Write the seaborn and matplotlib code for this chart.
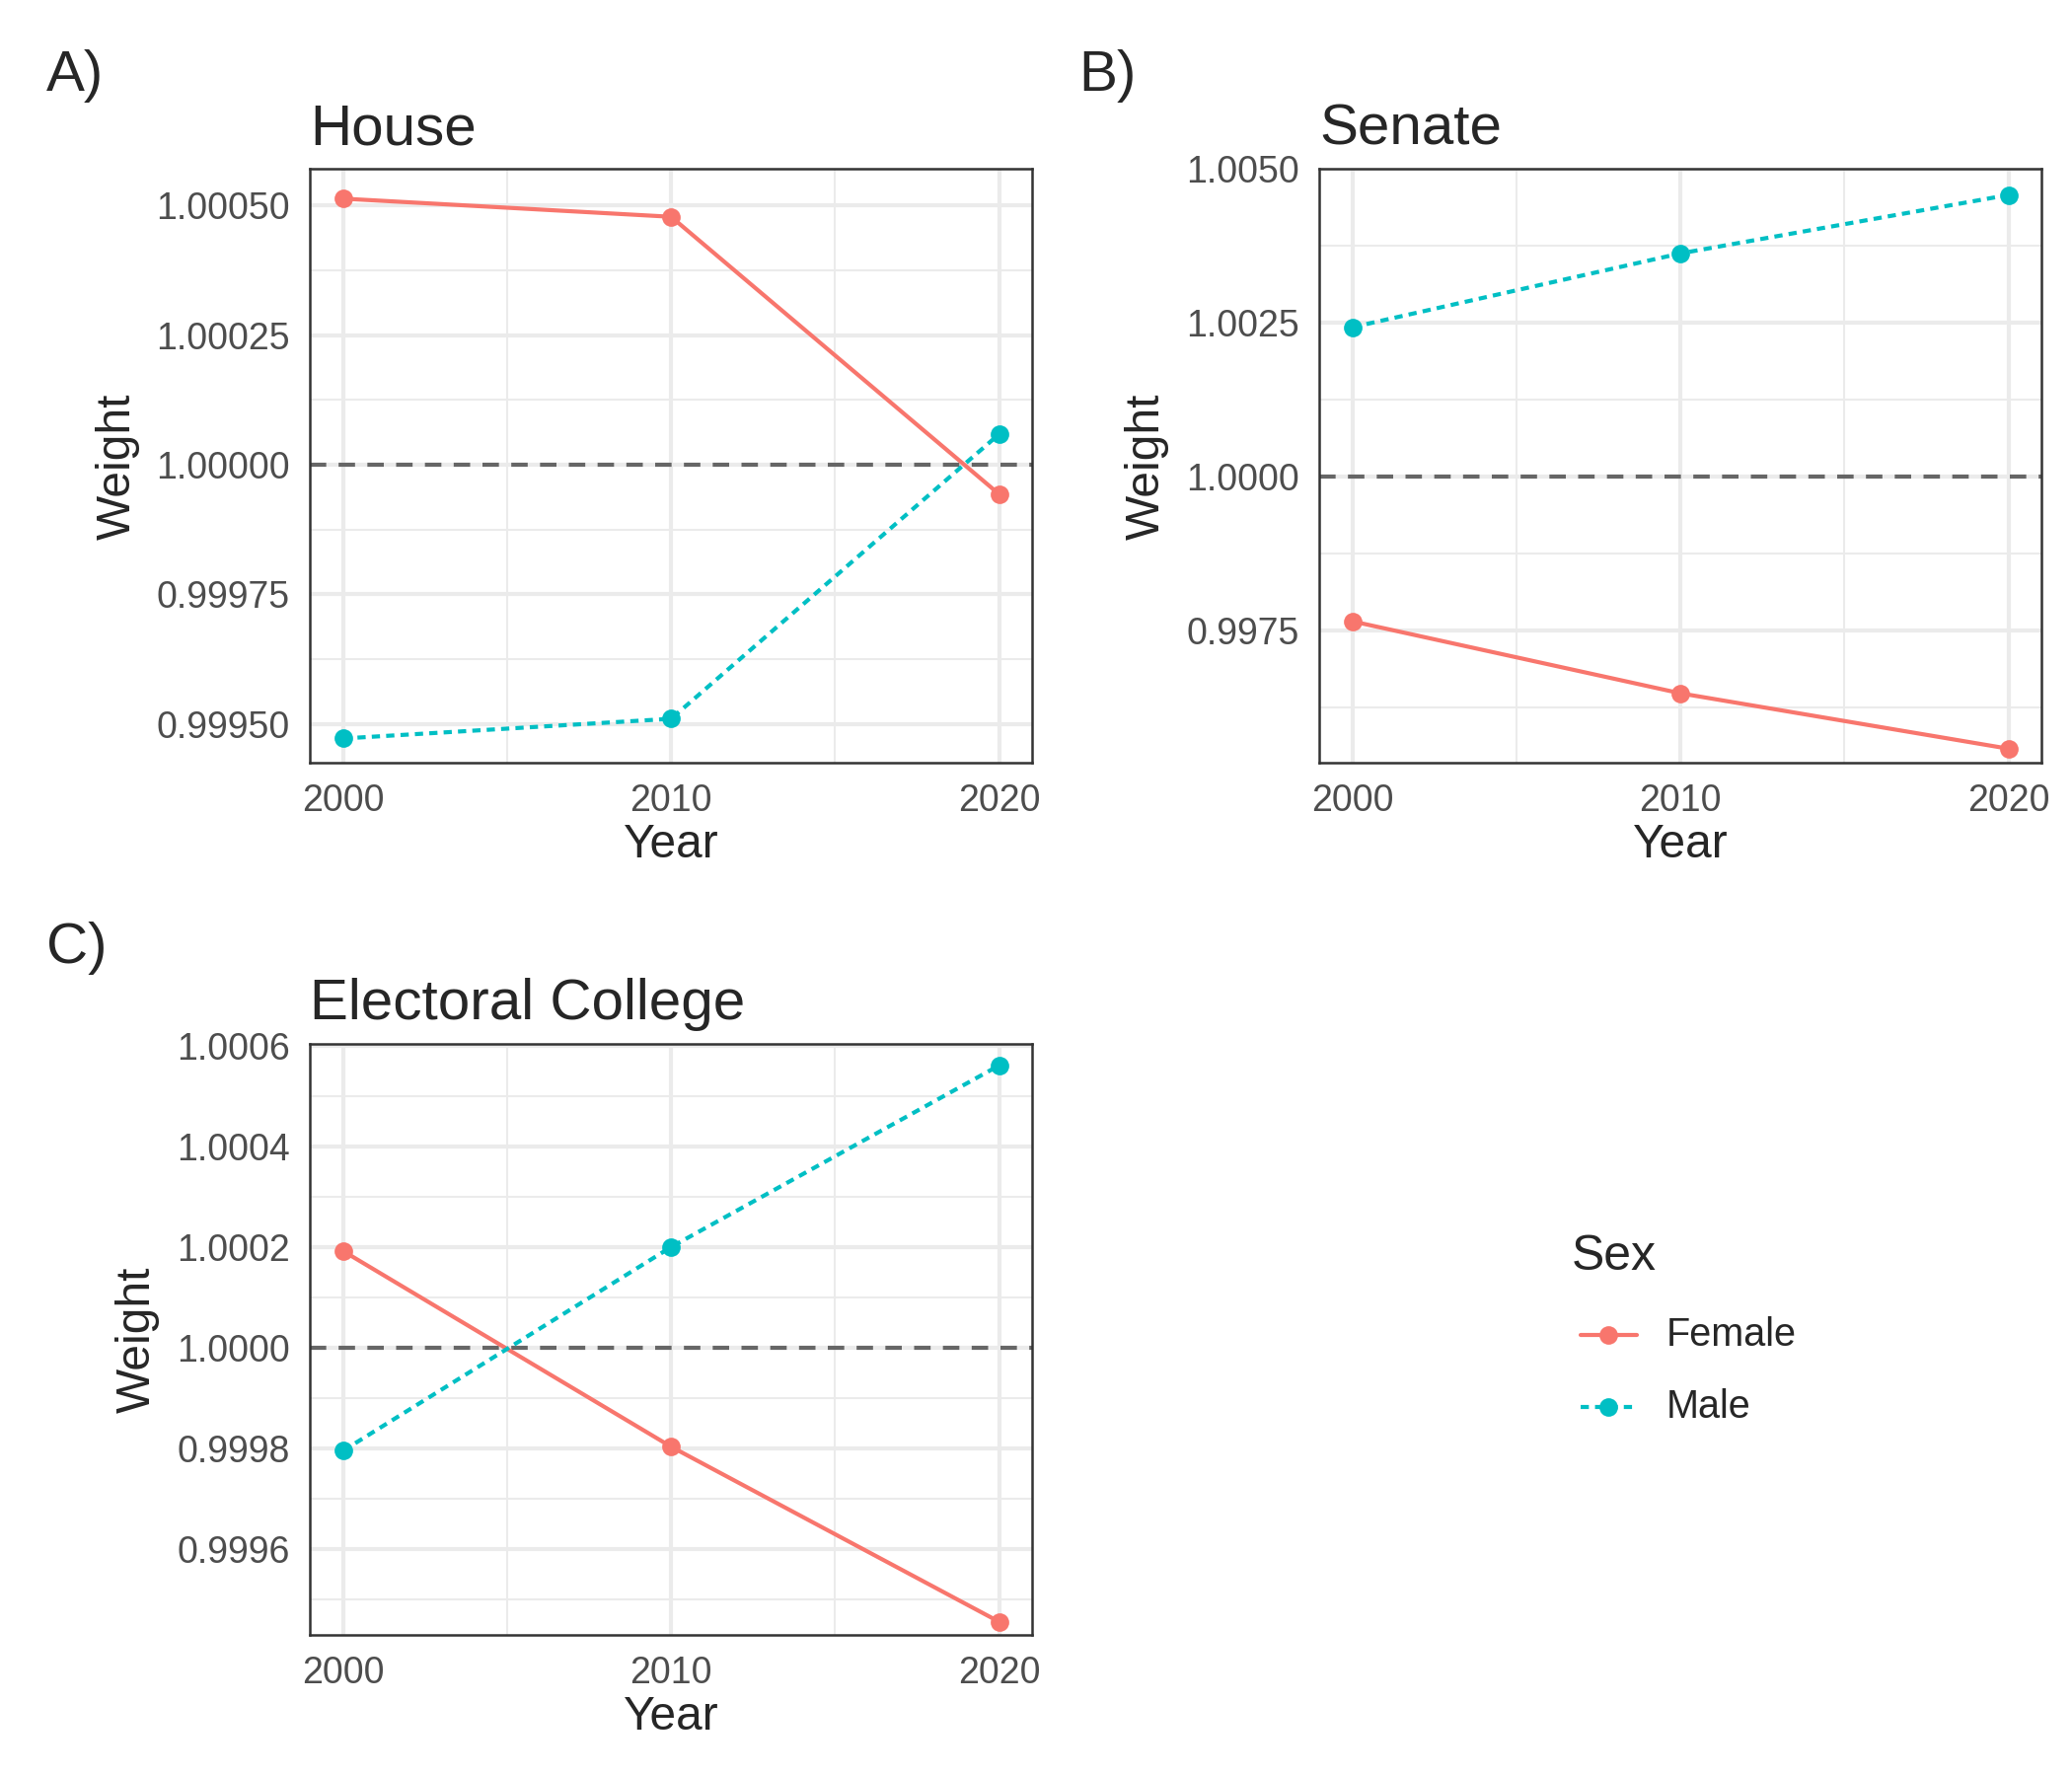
import numpy as np
import pandas as pd
import seaborn as sns
import matplotlib.pyplot as plt
from matplotlib.ticker import MultipleLocator, FormatStrFormatter

years = [2000, 2010, 2020]
house_female = [1.000513, 1.000478, 0.999943]
house_male = [0.999472, 0.999510, 1.000059]
senate_female = [0.99765, 0.99648, 0.99558]
senate_male = [1.00243, 1.00363, 1.00458]
ec_female = [1.000193, 0.999804, 0.999456]
ec_male = [0.999796, 1.000201, 1.000562]

palette = {'Female': '#F8766D', 'Male': '#00BFC4'}
dashes = {'Female': '', 'Male': (2, 1.5)}

sns.set_theme(style='white')
plt.rcParams['font.family'] = ['Liberation Sans', 'DejaVu Sans']

fig = plt.figure(figsize=(7, 6), dpi=300)
W, H = 1556, 1334


def make_df(f, m):
    return pd.DataFrame({'Year': years * 2, 'Weight': f + m,
                         'Sex': ['Female'] * 3 + ['Male'] * 3})


def panel(rect, df, title, letter, major, fmt, ylim):
    x0, y0, x1, y1 = rect
    ax = fig.add_axes([x0 / W, 1 - y1 / H, (x1 - x0) / W, (y1 - y0) / H])
    ax.yaxis.set_major_locator(MultipleLocator(major))
    ax.yaxis.set_minor_locator(MultipleLocator(major / 2))
    ax.xaxis.set_major_locator(MultipleLocator(10))
    ax.xaxis.set_minor_locator(MultipleLocator(5))
    ax.grid(True, which='major', color='#EBEBEB', lw=1.0)
    ax.grid(True, which='minor', color='#EBEBEB', lw=0.5)
    ax.set_axisbelow(True)
    ax.axhline(1.0, color='#666666', ls=(0, (4, 3)), lw=1.0)
    sns.lineplot(data=df, x='Year', y='Weight', hue='Sex', style='Sex',
                 palette=palette, dashes=dashes, marker='o', markersize=4.5,
                 markeredgewidth=0, lw=1.0, ax=ax, legend=False)
    ax.set_xlim(1999, 2021)
    ax.set_ylim(*ylim)
    ax.yaxis.set_major_formatter(FormatStrFormatter(fmt))
    for s in ax.spines.values():
        s.set_color('#333333')
        s.set_linewidth(0.6)
    ax.tick_params(axis='both', which='major', length=3, width=0.6,
                   color='#333333', labelsize=9, labelcolor='#4D4D4D', pad=2)
    ax.tick_params(which='minor', length=0)
    ax.set_xlabel('Year', fontsize=11.5, labelpad=1)
    ax.set_ylabel('Weight', fontsize=11.5)
    ax.set_title(title, loc='left', fontsize=14, pad=6)
    fig.text(35 / W, 1 - 57 / H if letter != 'C)' else 1 - 712 / H, letter,
             fontsize=14, va='center')
    return ax


panel((233, 127, 775, 573), make_df(house_female, house_male), 'House', 'A)',
      0.00025, '%.5f', (0.999425, 1.000570))
ax = panel((991, 127, 1533, 573), make_df(senate_female, senate_male), 'Senate', 'B)',
           0.0025, '%.4f', (0.99535, 1.00500))
fig.texts[-1].set_position((810 / W, 1 - 57 / H))
panel((233, 784, 775, 1228), make_df(ec_female, ec_male), 'Electoral College', 'C)',
      0.0002, '%.4f', (0.99943, 1.000605))

# legend
fig.text(1180 / W, 1 - 944 / H, 'Sex', fontsize=12, va='center')
for i, s in enumerate(['Female', 'Male']):
    yy = 1 - (1003 + 54 * i) / H
    ln = plt.Line2D([1187 / W, 1229 / W], [yy, yy], transform=fig.transFigure,
                    color=palette[s], lw=1.0,
                    ls='-' if s == 'Female' else (0, (2, 1.5)))
    mk = plt.Line2D([1208 / W], [yy], transform=fig.transFigure, color=palette[s],
                    marker='o', markersize=4.5, markeredgewidth=0)
    fig.add_artist(ln)
    fig.add_artist(mk)
    fig.text(1251 / W, yy, s, fontsize=9.5, va='center')

fig.savefig('out.png', dpi=300, facecolor='white')
